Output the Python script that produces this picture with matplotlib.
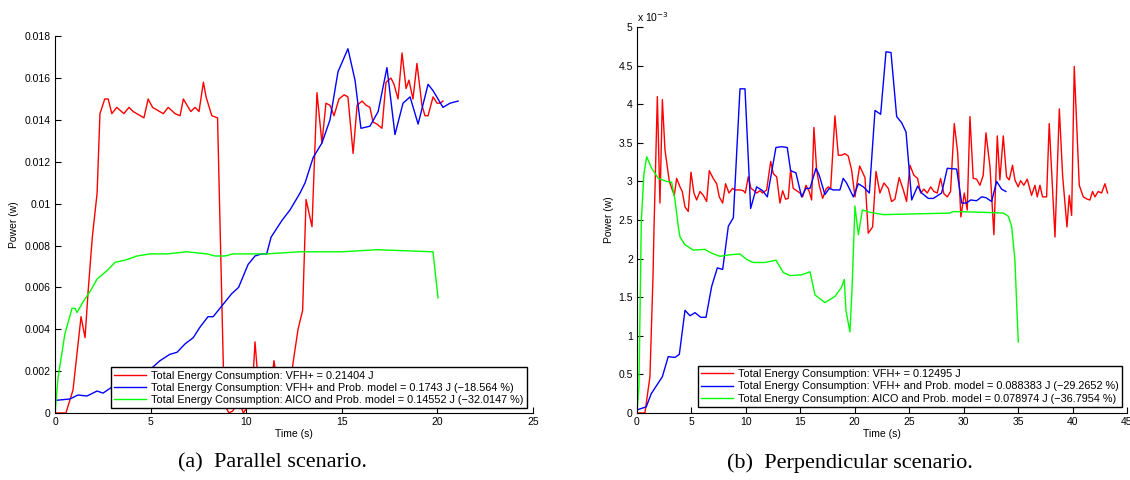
# -*- coding: utf-8 -*-
"""
Power over time for the three planners, parallel and perpendicular scenarios
"""

import numpy as np
import matplotlib
matplotlib.use('Agg')
from matplotlib import pyplot as plt
from matplotlib.ticker import FuncFormatter

plt.rcParams['font.family'] = ['Liberation Sans', 'DejaVu Sans']

# (a) parallel scenario, power in W
par_vfh_t = [0, 0.57, 0.94, 1.36, 1.57, 1.73, 1.95, 2.2, 2.35, 2.6,
             2.78, 2.97, 3.23, 3.6, 3.87, 4.09, 4.65, 4.87, 5.1, 5.66,
             5.92, 6.28, 6.54, 6.71, 7.1, 7.32, 7.53, 7.76, 7.9, 8.2,
             8.5, 8.85, 9.1, 9.3, 9.6, 9.85, 10.0, 10.3, 10.46, 10.65,
             11.0, 11.3, 11.45, 11.65, 12.0, 12.3, 12.45, 12.71, 12.95, 13.13,
             13.44, 13.7, 13.96, 14.17, 14.38, 14.59, 14.85, 15.12, 15.32, 15.59,
             15.8, 16.06, 16.27, 16.47, 16.63, 16.84, 17.1, 17.31, 17.57, 17.73,
             17.94, 18.15, 18.36, 18.51, 18.72, 18.93, 19.19, 19.35, 19.51, 19.77,
             19.98, 20.14, 20.29]
par_vfh_p = [0, 0, 0.0011, 0.0046, 0.0036, 0.0058, 0.0084, 0.0105, 0.0143, 0.0150,
             0.0150, 0.0143, 0.0146, 0.0143, 0.0146, 0.0144, 0.0141, 0.0150, 0.0146, 0.0143,
             0.0146, 0.0143, 0.0142, 0.0150, 0.0144, 0.0146, 0.0144, 0.0158, 0.0151, 0.0142,
             0.0141, 0.0004, 0.0, 0.0001, 0.0006, 0.0, 0.0002, 0.0008, 0.0034, 0.0012,
             0.0009, 0.0012, 0.0025, 0.0013, 0.0009, 0.0011, 0.0024, 0.0040, 0.0049, 0.0102,
             0.0089, 0.0153, 0.0129, 0.0148, 0.0147, 0.0142, 0.0150, 0.0152, 0.0151, 0.0124,
             0.0147, 0.0149, 0.0147, 0.0146, 0.0139, 0.0138, 0.0136, 0.0158, 0.0160, 0.0157,
             0.0150, 0.0172, 0.0155, 0.0159, 0.0150, 0.0167, 0.0147, 0.0142, 0.0142, 0.0151,
             0.0148, 0.0148, 0.0149]

par_prob_t = [0, 0.78, 1.2, 1.67, 2.2, 2.51, 2.98, 3.3, 4.0, 4.5,
              5.0, 5.49, 6.0, 6.38, 6.8, 7.23, 7.58, 8.0, 8.27, 8.8,
              9.24, 9.6, 10.1, 10.46, 10.8, 11.07, 11.3, 11.87, 12.29, 12.81,
              13.08, 13.5, 13.96, 14.38, 14.8, 15.32, 15.69, 16.0, 16.47, 16.9,
              17.36, 17.78, 18.2, 18.57, 18.99, 19.51, 19.77, 20.29, 20.66, 21.08]
par_prob_p = [0.0006, 0.00067, 0.00086, 0.00081, 0.00105, 0.00095, 0.00124, 0.0013, 0.0015, 0.0018,
              0.0021, 0.0025, 0.0028, 0.0029, 0.0033, 0.0036, 0.0041, 0.0046, 0.0046, 0.0052,
              0.0057, 0.0060, 0.0071, 0.0075, 0.0076, 0.0076, 0.0084, 0.0092, 0.0097, 0.0105,
              0.0110, 0.0122, 0.0129, 0.0140, 0.0163, 0.0174, 0.0159, 0.0136, 0.0137, 0.0144,
              0.0165, 0.0133, 0.0148, 0.0151, 0.0138, 0.0157, 0.0154, 0.0146, 0.0148, 0.0149]

par_aico_t = [0, 0.16, 0.52, 0.89, 1.05, 1.15, 1.46, 1.83, 2.2, 2.72,
              3.14, 3.66, 4.29, 4.97, 5.84, 6.9, 7.95, 8.37, 8.89, 9.31,
              11.07, 12.8, 15.0, 16.84, 19.77, 20.03]
par_aico_p = [0, 0.0017, 0.0038, 0.0050, 0.0050, 0.0048, 0.0053, 0.0058, 0.0064, 0.0068,
              0.0072, 0.0073, 0.0075, 0.0076, 0.0076, 0.0077, 0.0076, 0.0075, 0.0075, 0.0076,
              0.0076, 0.0077, 0.0077, 0.0078, 0.0077, 0.0055]

# (b) perpendicular scenario, power in units of 1e-3 W
perp_vfh_t = [0, 0.73, 1.19, 1.47, 1.56, 1.87, 2.11, 2.33, 2.57, 2.97,
              3.43, 3.64, 3.95, 4.16, 4.41, 4.71, 4.96, 5.23, 5.48, 5.79,
              6.09, 6.4, 6.64, 7.0, 7.32, 7.56, 7.87, 8.14, 8.45, 8.78,
              9.0, 9.46, 9.76, 9.95, 10.22, 10.47, 10.68, 10.99, 11.3, 11.54,
              11.91, 12.28, 12.52, 12.83, 13.13, 13.38, 13.65, 13.89, 14.11, 14.35,
              14.97, 15.21, 15.52, 15.82, 16.04, 16.25, 16.5, 16.74, 17.05, 17.36,
              17.57, 17.79, 18.18, 18.49, 18.8, 19.1, 19.4, 19.71, 20.02, 20.45,
              20.94, 21.24, 21.64, 21.95, 22.31, 22.68, 23.08, 23.38, 23.69, 24.08,
              24.46, 24.76, 25.07, 25.43, 25.77, 26.05, 26.35, 26.66, 26.97, 27.27,
              27.58, 27.88, 28.19, 28.5, 28.8, 29.14, 29.45, 29.75, 30.06, 30.33,
              30.58, 30.88, 31.19, 31.5, 31.8, 32.05, 32.42, 32.78, 33.09, 33.33,
              33.64, 33.94, 34.19, 34.49, 34.71, 35.01, 35.23, 35.53, 35.84, 36.24,
              36.55, 36.76, 37.01, 37.25, 37.62, 37.86, 38.39, 38.79, 39.09, 39.49,
              39.7, 39.92, 40.16, 40.62, 40.99, 41.35, 41.6, 41.84, 42.06, 42.36,
              42.67, 42.98, 43.22]
perp_vfh_p = [0, 0, 0.47, 1.76, 2.37, 4.1, 2.72, 4.06, 3.41, 3.0,
              2.82, 3.04, 2.93, 2.87, 2.67, 2.61, 3.12, 2.85, 2.76, 2.87,
              2.82, 2.74, 3.14, 3.04, 2.97, 2.8, 2.72, 2.97, 2.85, 2.91,
              2.89, 2.89, 2.88, 2.85, 3.06, 2.91, 2.89, 2.85, 2.88, 2.85,
              2.89, 3.26, 3.1, 3.06, 2.72, 2.88, 2.77, 2.78, 3.15, 2.91,
              2.85, 2.8, 2.95, 2.87, 2.76, 3.7, 3.15, 2.95, 2.78, 2.9,
              2.93, 2.91, 3.85, 3.34, 3.34, 3.36, 3.33, 3.15, 2.8, 3.2,
              3.05, 2.33, 2.41, 3.13, 2.85, 2.98, 2.91, 2.74, 2.77, 3.05,
              2.89, 2.74, 3.21, 3.08, 3.04, 2.85, 2.9, 2.85, 2.93, 2.87,
              2.85, 3.04, 2.84, 2.8, 2.87, 3.75, 3.38, 2.54, 2.85, 2.63,
              3.84, 3.04, 3.03, 2.95, 3.08, 3.63, 3.19, 2.31, 3.59, 3.02,
              3.59, 3.06, 3.02, 3.21, 3.02, 2.93, 3.01, 2.95, 3.03, 2.82,
              2.95, 2.8, 2.95, 2.8, 2.8, 3.75, 2.28, 3.94, 3.08, 2.41,
              2.82, 2.56, 4.49, 2.95, 2.8, 2.77, 2.76, 2.87, 2.8, 2.87,
              2.85, 2.97, 2.85]

perp_prob_t = [0, 0.85, 1.31, 2.33, 2.87, 3.49, 3.89, 4.41, 4.87, 5.33,
               5.85, 6.34, 6.86, 7.38, 7.87, 8.39, 8.85, 9.46, 9.92, 10.44,
               10.99, 11.54, 11.97, 12.76, 13.28, 13.8, 14.11, 14.6, 15.12, 15.52,
               15.89, 16.44, 16.74, 17.26, 17.66, 18.02, 18.64, 18.94, 19.25, 19.87,
               20.33, 20.79, 21.34, 21.86, 22.38, 22.87, 23.33, 23.85, 24.31, 24.71,
               25.23, 25.78, 26.15, 26.76, 27.22, 27.98, 28.5, 29.36, 29.82, 30.27,
               30.64, 31.19, 31.65, 32.05, 32.57, 33.03, 33.49, 33.88]
perp_prob_p = [0.04, 0.08, 0.25, 0.47, 0.73, 0.72, 0.76, 1.33, 1.26, 1.30,
               1.24, 1.24, 1.64, 1.88, 1.86, 2.42, 2.53, 4.2, 4.2, 2.65,
               2.93, 2.88, 2.8, 3.44, 3.45, 3.44, 3.14, 3.11, 2.8, 2.91,
               2.91, 3.17, 3.08, 2.83, 2.91, 2.89, 2.89, 3.04, 2.98, 2.8,
               2.97, 2.93, 2.85, 3.92, 3.87, 4.68, 4.67, 3.84, 3.76, 3.64,
               2.76, 2.94, 2.85, 2.78, 2.78, 2.85, 3.17, 3.16, 2.72, 2.72,
               2.76, 2.75, 2.8, 2.79, 2.74, 3.0, 2.9, 2.87]

perp_aico_t = [0, 0.18, 0.4, 0.64, 0.89, 1.35, 1.96, 2.72, 3.18, 3.49,
               3.8, 3.95, 4.41, 5.17, 6.24, 6.86, 7.62, 8.54, 9.46, 10.07,
               10.68, 11.75, 12.76, 13.44, 14.05, 15.12, 15.89, 16.35, 17.26, 18.18,
               18.79, 19.04, 19.19, 19.56, 19.75, 20.02, 20.33, 20.7, 21.4, 22.62,
               25.68, 28.74, 29.05, 31.8, 33.64, 34.1, 34.41, 34.71, 34.87, 35.02]
perp_aico_p = [0, 0.34, 2.5, 3.1, 3.32, 3.17, 3.04, 3.0, 2.99, 2.76,
               2.41, 2.28, 2.18, 2.11, 2.12, 2.07, 2.03, 2.05, 2.06, 1.99,
               1.95, 1.95, 1.98, 1.82, 1.78, 1.79, 1.83, 1.53, 1.43, 1.51,
               1.63, 1.73, 1.33, 1.05, 1.6, 2.68, 2.31, 2.63, 2.6, 2.57,
               2.58, 2.59, 2.61, 2.6, 2.59, 2.55, 2.42, 1.98, 1.42, 0.92]

par_labels = ['Total Energy Consumption: VFH+ = 0.21404 J',
              'Total Energy Consumption: VFH+ and Prob. model = 0.1743 J (\u221218.564 %)',
              'Total Energy Consumption: AICO and Prob. model = 0.14552 J (\u221232.0147 %)']
perp_labels = ['Total Energy Consumption: VFH+ = 0.12495 J',
               'Total Energy Consumption: VFH+ and Prob. model = 0.088383 J (\u221229.2652 %)',
               'Total Energy Consumption: AICO and Prob. model = 0.078974 J (\u221236.7954 %)']
colors = ['#ff0000', '#0000ff', '#00ff00']


def style_axes(ax):
    ax.spines['top'].set_visible(False)
    ax.spines['right'].set_visible(False)
    ax.spines['left'].set_linewidth(0.8)
    ax.spines['bottom'].set_linewidth(0.8)
    ax.tick_params(direction='in', length=4, width=0.8, labelsize=7.5, pad=3)
    ax.set_xlabel('Time (s)', fontsize=7.5)
    ax.set_ylabel('Power (w)', fontsize=7.5)


def add_legend(ax, anchor):
    leg = ax.legend(loc='lower right', bbox_to_anchor=anchor, fontsize=7.8,
                    frameon=True, fancybox=False, edgecolor='black', framealpha=1,
                    handlelength=2.9, handletextpad=0.5, labelspacing=0.2,
                    borderpad=0.3, borderaxespad=0)
    leg.get_frame().set_linewidth(1.0)


fig = plt.figure(figsize=(11.3, 4.8), dpi=100)

# left: parallel
ax1 = fig.add_axes([0.0487, 0.1396, 0.423, 0.785])
series = [(par_vfh_t, par_vfh_p), (par_prob_t, par_prob_p), (par_aico_t, par_aico_p)]
for (t, p), c, lab in zip(series, colors, par_labels):
    ax1.plot(t, p, color=c, lw=1.0, label=lab)
ax1.set_xlim(0, 25)
ax1.set_ylim(0, 0.018)
ax1.set_xticks(np.arange(0, 26, 5))
ax1.set_yticks(np.arange(0, 0.0181, 0.002))
ax1.yaxis.set_major_formatter(FuncFormatter(lambda v, pos: f'{round(v, 4):g}'))
style_axes(ax1)
ax1.yaxis.set_label_coords(-0.075, 0.5)
ax1.xaxis.set_label_coords(0.5, -0.042)
add_legend(ax1, (0.987, 0.013))

# right: perpendicular
ax2 = fig.add_axes([0.5637, 0.1396, 0.4336, 0.804])
series = [(perp_vfh_t, perp_vfh_p), (perp_prob_t, perp_prob_p), (perp_aico_t, perp_aico_p)]
for (t, p), c, lab in zip(series, colors, perp_labels):
    ax2.plot(t, np.array(p) * 1e-3, color=c, lw=1.0, label=lab)
ax2.set_xlim(0, 45)
ax2.set_ylim(0, 5e-3)
ax2.set_xticks(np.arange(0, 46, 5))
ax2.set_yticks(np.arange(0, 5.01, 0.5) * 1e-3)
ax2.yaxis.set_major_formatter(FuncFormatter(lambda v, pos: f'{round(v * 1e3, 2):g}'))
style_axes(ax2)
ax2.yaxis.set_label_coords(-0.046, 0.5)
ax2.xaxis.set_label_coords(0.5, -0.041)
ax2.text(0.0, 1.008, 'x 10$^{-3}$', transform=ax2.transAxes, fontsize=7.5,
         ha='left', va='bottom')
add_legend(ax2, (0.99, 0.016))

# captions
fig.text(0.241, 0.035, '(a)  Parallel scenario.', family='Liberation Serif',
         fontsize=16, ha='center', va='center')
fig.text(0.752, 0.035, '(b)  Perpendicular scenario.', family='Liberation Serif',
         fontsize=16, ha='center', va='center')

fig.savefig('out.png', dpi=100)
